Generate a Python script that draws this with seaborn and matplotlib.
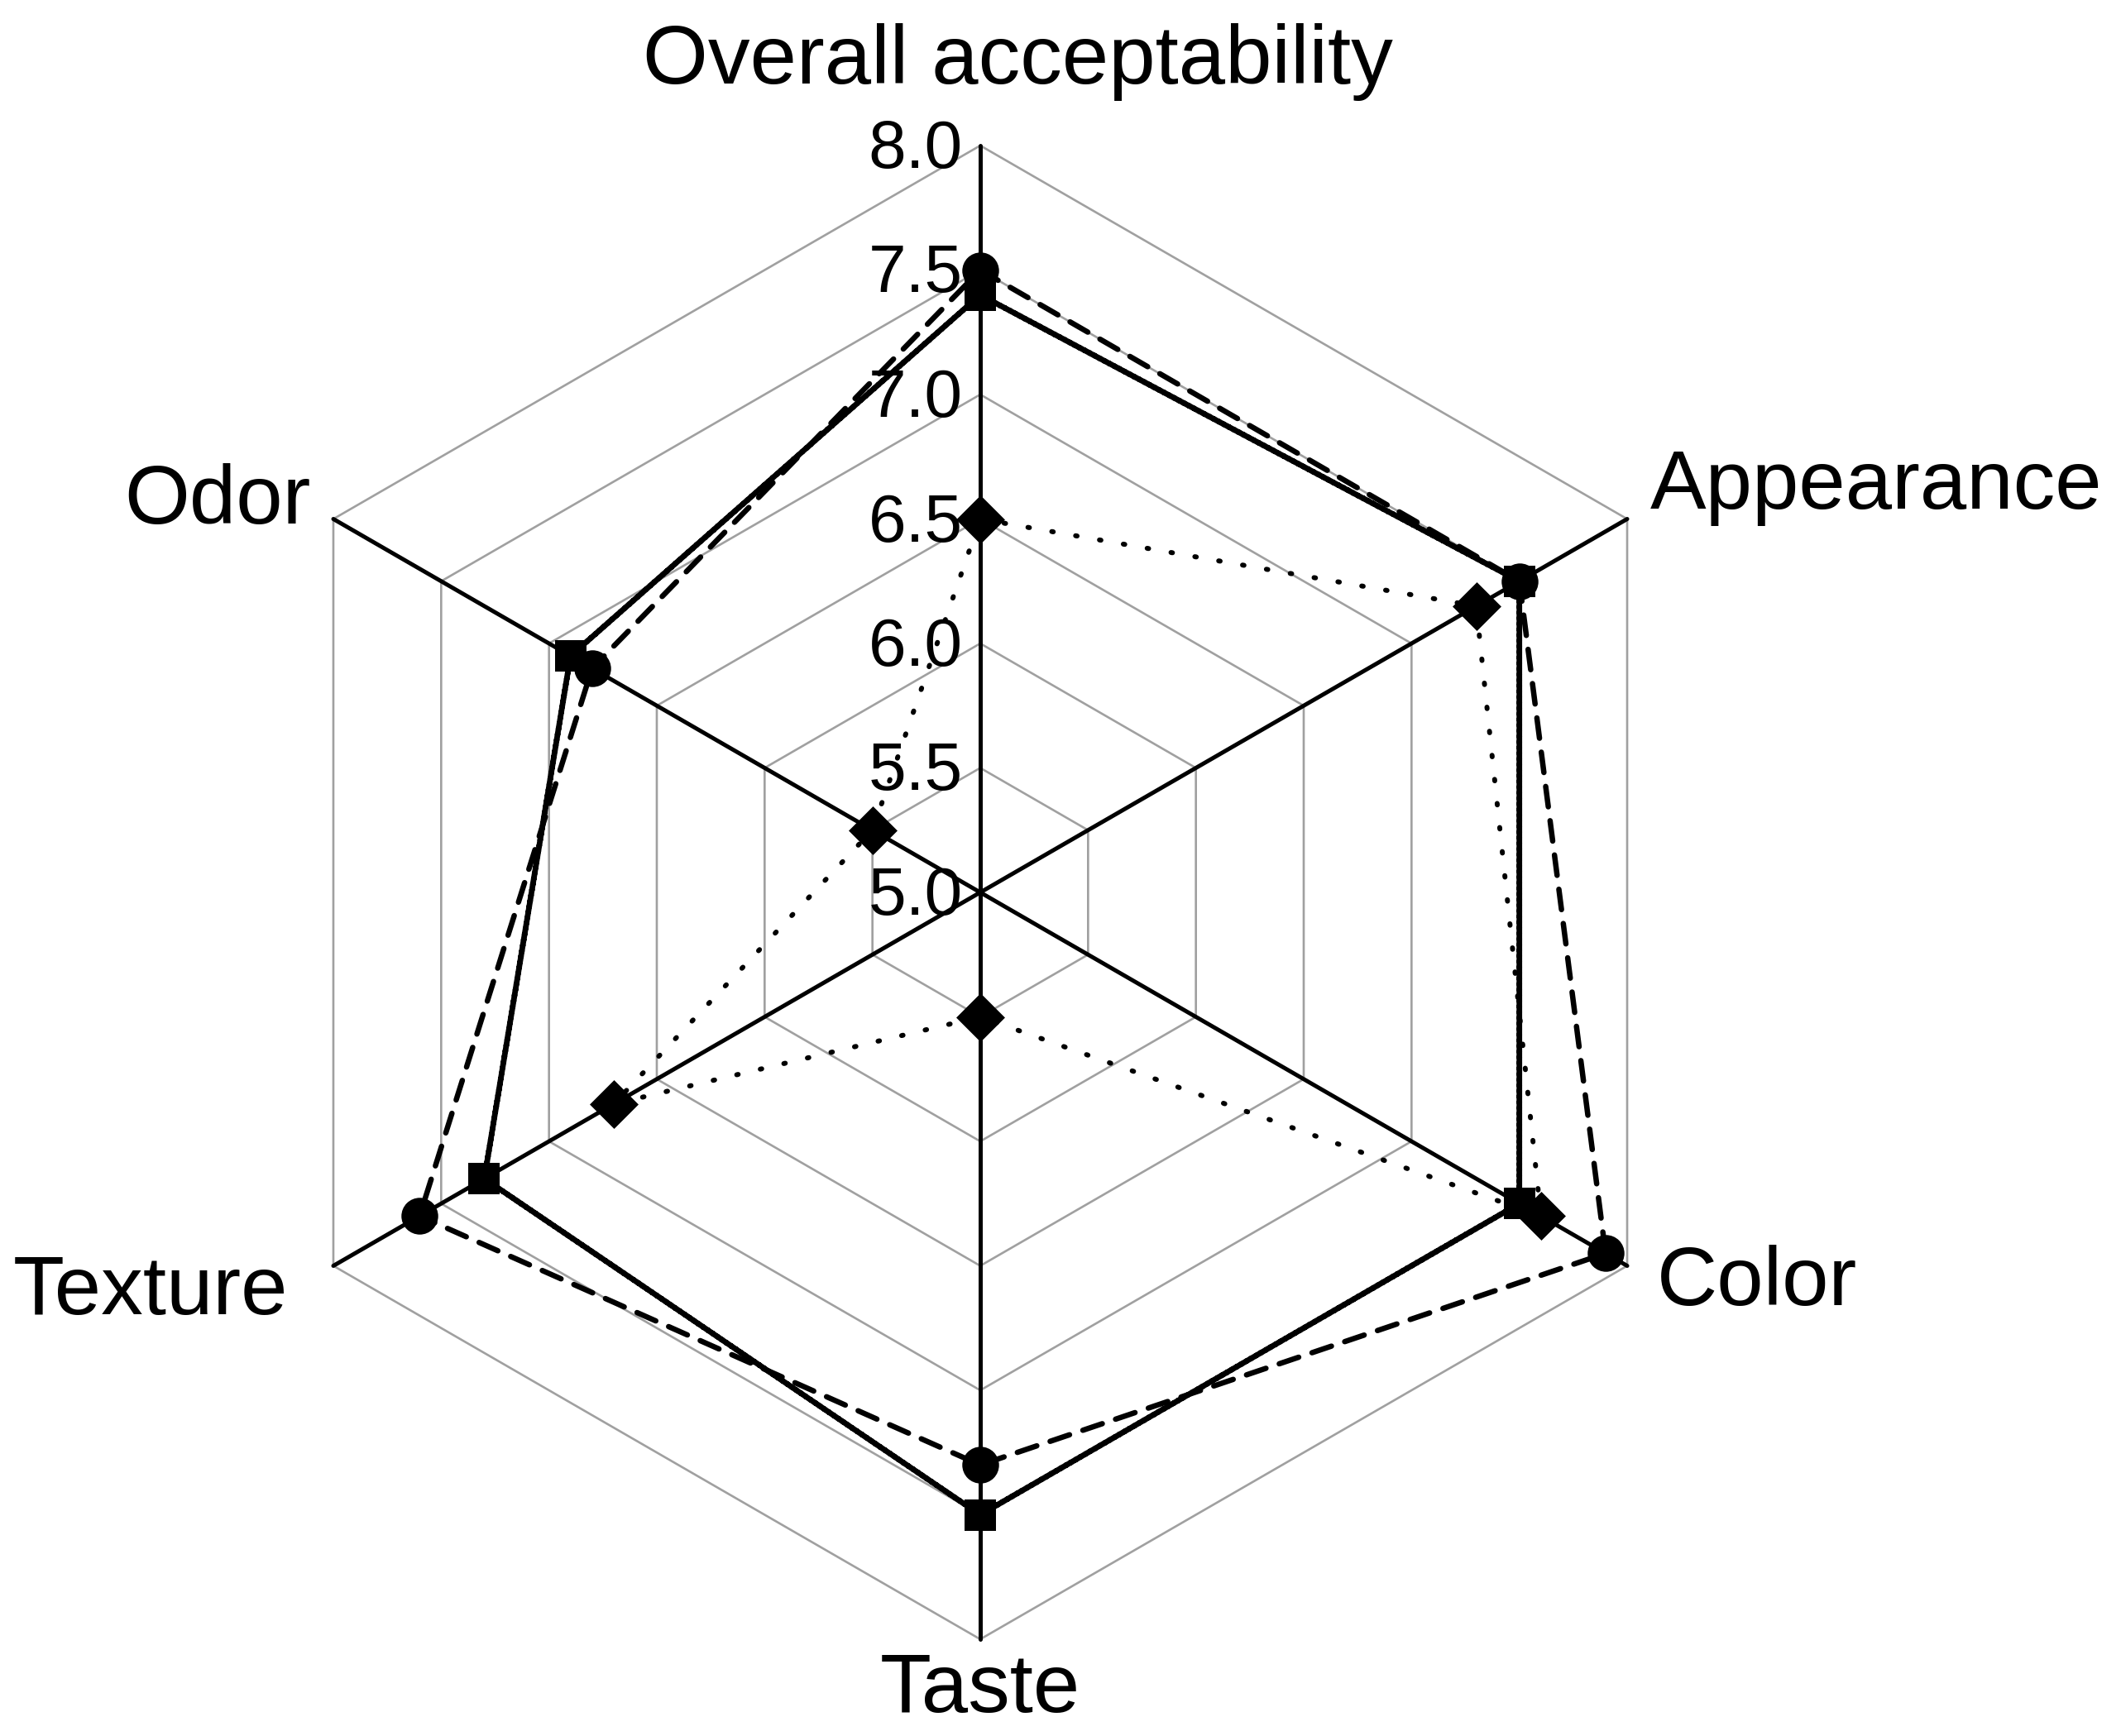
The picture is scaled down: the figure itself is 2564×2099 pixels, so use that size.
import numpy as np
import pandas as pd
import matplotlib
matplotlib.use("Agg")
import matplotlib.pyplot as plt
import seaborn as sns

sns.set_style("white")
plt.rcParams["font.family"] = ["Liberation Sans", "DejaVu Sans"]
plt.rcParams["text.color"] = "black"

categories = ["Overall acceptability", "Appearance", "Color", "Taste", "Texture", "Odor"]
circle_scores = [7.5, 7.5, 7.9, 7.3, 7.6, 6.8]    # dashed line
square_scores = [7.4, 7.5, 7.5, 7.5, 7.3, 6.9]    # solid line
diamond_scores = [6.5, 7.3, 7.6, 5.5, 6.7, 5.5]   # dotted line
ring_levels = [5.5, 6.0, 6.5, 7.0, 7.5, 8.0]
tick_labels = ["5.0", "5.5", "6.0", "6.5", "7.0", "7.5", "8.0"]
r_min, r_max = 5.0, 8.0

# axes go clockwise starting from the top
angles = np.deg2rad(90 - 60 * np.arange(len(categories)))


def to_xy(values):
    r = np.asarray(values) - r_min
    x = r * np.cos(angles)
    y = r * np.sin(angles)
    # close the polygon
    return np.append(x, x[0]), np.append(y, y[0])


px = 301.0  # pixels per score unit
fig = plt.figure(figsize=(25.64, 20.99), dpi=100)
ax = fig.add_axes([0, 0, 1, 1])
ax.set_xlim(-1185 / px, (2564 - 1185) / px)
ax.set_ylim(-(2099 - 1079) / px, 1079 / px)
ax.set_aspect("equal")
ax.axis("off")

# hexagonal grid
for lev in ring_levels:
    gx, gy = to_xy([lev] * len(categories))
    ax.plot(gx, gy, color="#a0a0a0", lw=1.9, zorder=1)

# spokes
for a in angles:
    ax.plot([0, (r_max - r_min) * np.cos(a)], [0, (r_max - r_min) * np.sin(a)],
            color="black", lw=3.6, zorder=2)

# radial tick labels along the top spoke
for lev, lab in zip([r_min] + ring_levels, tick_labels):
    ax.text(-21 / px, lev - r_min - 27 / px, lab, ha="right", va="baseline",
            fontsize=59, color="black", zorder=3)

series = [
    ("square", square_scores, "s", (0, (1, 0)), 28, 4.9),
    ("circle", circle_scores, "o", (0, (3.8, 2.6)), 32, 4.7),
    ("diamond", diamond_scores, "D", (0, (0.3, 4.6)), 30, 4.3),
]
for name, vals, mk, ls, ms, lw in series:
    x, y = to_xy(vals)
    df = pd.DataFrame({"x": x, "y": y})
    sns.lineplot(data=df, x="x", y="y", sort=False, estimator=None, ax=ax,
                 color="black", lw=lw, linestyle=ls, dash_capstyle="round",
                 zorder=5)
    sns.scatterplot(data=df.iloc[:-1], x="x", y="y", marker=mk, s=ms ** 2,
                    color="black", edgecolor="black", linewidth=0, ax=ax, zorder=6)

ax.set_xlabel("")
ax.set_ylabel("")

# category labels
label_pos = {
    "Overall acceptability": (1230, 101, "center"),
    "Appearance": (1995, 615, "left"),
    "Color": (2003, 1578, "left"),
    "Taste": (1185, 2070, "center"),
    "Texture": (348, 1589, "right"),
    "Odor": (376, 633, "right"),
}
for cat in categories:
    lx, ly, ha = label_pos[cat]
    ax.text((lx - 1185) / px, (1079 - ly) / px, cat, ha=ha, va="baseline",
            fontsize=73, color="black", zorder=3)

plt.savefig("out.png", dpi=100)
plt.close()
